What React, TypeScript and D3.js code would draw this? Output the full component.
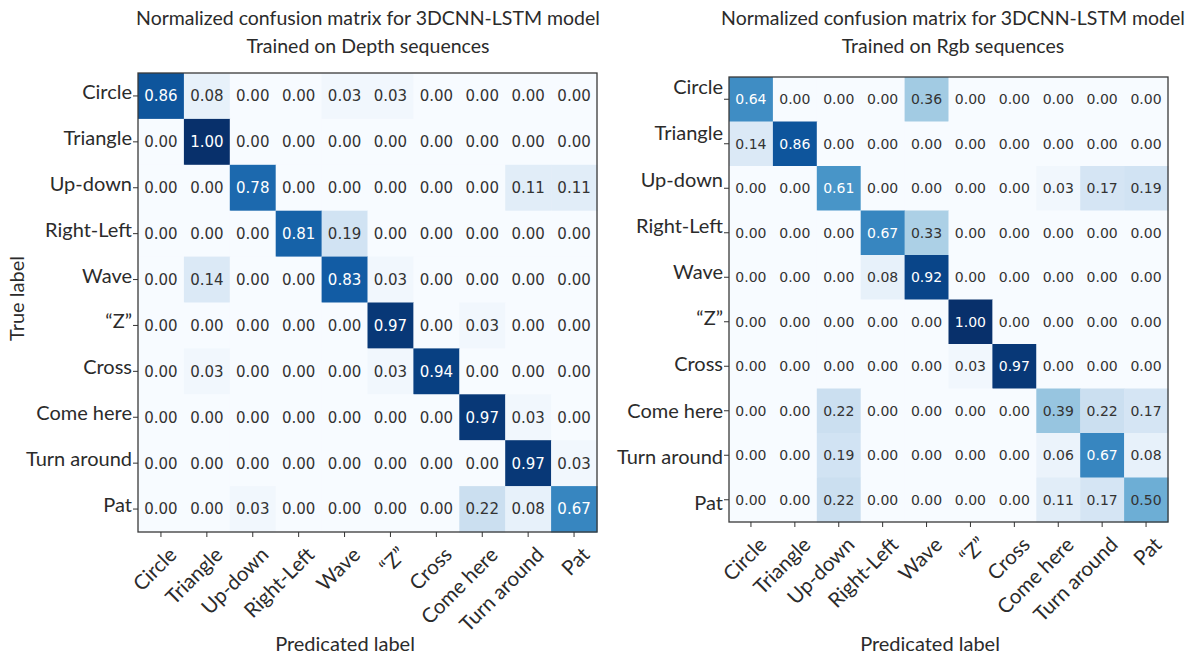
import React from "react";
import * as d3 from "d3";

const labels = [
  "Circle",
  "Triangle",
  "Up-down",
  "Right-Left",
  "Wave",
  "\u201CZ\u201D",
  "Cross",
  "Come here",
  "Turn around",
  "Pat",
];

// rows = true label, columns = predicted label
const depthValues = [
  [0.86, 0.08, 0.0, 0.0, 0.03, 0.03, 0.0, 0.0, 0.0, 0.0],
  [0.0, 1.0, 0.0, 0.0, 0.0, 0.0, 0.0, 0.0, 0.0, 0.0],
  [0.0, 0.0, 0.78, 0.0, 0.0, 0.0, 0.0, 0.0, 0.11, 0.11],
  [0.0, 0.0, 0.0, 0.81, 0.19, 0.0, 0.0, 0.0, 0.0, 0.0],
  [0.0, 0.14, 0.0, 0.0, 0.83, 0.03, 0.0, 0.0, 0.0, 0.0],
  [0.0, 0.0, 0.0, 0.0, 0.0, 0.97, 0.0, 0.03, 0.0, 0.0],
  [0.0, 0.03, 0.0, 0.0, 0.0, 0.03, 0.94, 0.0, 0.0, 0.0],
  [0.0, 0.0, 0.0, 0.0, 0.0, 0.0, 0.0, 0.97, 0.03, 0.0],
  [0.0, 0.0, 0.0, 0.0, 0.0, 0.0, 0.0, 0.0, 0.97, 0.03],
  [0.0, 0.0, 0.03, 0.0, 0.0, 0.0, 0.0, 0.22, 0.08, 0.67],
];

const rgbValues = [
  [0.64, 0.0, 0.0, 0.0, 0.36, 0.0, 0.0, 0.0, 0.0, 0.0],
  [0.14, 0.86, 0.0, 0.0, 0.0, 0.0, 0.0, 0.0, 0.0, 0.0],
  [0.0, 0.0, 0.61, 0.0, 0.0, 0.0, 0.0, 0.03, 0.17, 0.19],
  [0.0, 0.0, 0.0, 0.67, 0.33, 0.0, 0.0, 0.0, 0.0, 0.0],
  [0.0, 0.0, 0.0, 0.08, 0.92, 0.0, 0.0, 0.0, 0.0, 0.0],
  [0.0, 0.0, 0.0, 0.0, 0.0, 1.0, 0.0, 0.0, 0.0, 0.0],
  [0.0, 0.0, 0.0, 0.0, 0.0, 0.03, 0.97, 0.0, 0.0, 0.0],
  [0.0, 0.0, 0.22, 0.0, 0.0, 0.0, 0.0, 0.39, 0.22, 0.17],
  [0.0, 0.0, 0.19, 0.0, 0.0, 0.0, 0.0, 0.06, 0.67, 0.08],
  [0.0, 0.0, 0.22, 0.0, 0.0, 0.0, 0.0, 0.11, 0.17, 0.5],
];

const titleLine1 = "Normalized confusion matrix for 3DCNN-LSTM model";
const depthTitle = "Trained on Depth sequences";
const rgbTitle = "Trained on Rgb sequences";

const labelFont = "Lato, 'Open Sans', sans-serif";
const valueFont = "'DejaVu Sans', Verdana, sans-serif";
const textDark = "#2b2b2b";

const color = d3.scaleSequential(d3.interpolateBlues).domain([0, 1]);

type MatrixProps = {
  values: number[][];
  subtitle: string;
  x0: number;
  x1: number;
  y0: number;
  y1: number;
  titleX: number;
  xTitleX: number;
  valueSize: number;
  labelTop: number;
  labelBottom: number;
  showYTitle: boolean;
};

const Matrix = ({
  values,
  subtitle,
  x0,
  x1,
  y0,
  y1,
  titleX,
  xTitleX,
  valueSize,
  labelTop,
  labelBottom,
  showYTitle,
}: MatrixProps) => {
  const x = d3.scaleBand().domain(labels).range([x0, x1]);
  const y = d3.scaleBand().domain(labels).range([y0, y1]);
  // the row names were pasted in by hand, their spacing is not quite the grid's
  const yLab = d3.scaleBand().domain(labels).range([labelTop, labelBottom]);
  const thresh = d3.max(values.flat())! / 2;

  return (
    <g>
      <text x={titleX} y={25} textAnchor="middle" fontSize={19.5} fill={textDark}>
        {titleLine1}
      </text>
      <text x={titleX} y={53} textAnchor="middle" fontSize={19.5} fill={textDark}>
        {subtitle}
      </text>

      {values.map((row, i) =>
        row.map((v, j) => (
          <g key={`${i}-${j}`}>
            <rect
              x={x(labels[j])}
              y={y(labels[i])}
              width={x.bandwidth() + 0.5}
              height={y.bandwidth() + 0.5}
              fill={color(v)}
            />
            <text
              x={x(labels[j])! + x.bandwidth() / 2}
              y={y(labels[i])! + y.bandwidth() / 2}
              dy="0.36em"
              textAnchor="middle"
              fontFamily={valueFont}
              fontSize={valueSize}
              fill={v > thresh ? "#ffffff" : "#333333"}
            >
              {v.toFixed(2)}
            </text>
          </g>
        ))
      )}
      <rect
        x={x0}
        y={y0}
        width={x1 - x0}
        height={y1 - y0}
        fill="none"
        stroke="#3a3a3a"
        strokeWidth={1.3}
      />

      {/* y axis */}
      {labels.map((d) => (
        <g key={"y" + d}>
          <line
            x1={x0 - 5}
            x2={x0}
            y1={y(d)! + y.bandwidth() / 2}
            y2={y(d)! + y.bandwidth() / 2}
            stroke="#333"
          />
          <text
            x={x0 - 6}
            y={yLab(d)! + yLab.bandwidth() / 2}
            dy="0.35em"
            textAnchor="end"
            fontSize={20}
            fill={textDark}
          >
            {d}
          </text>
        </g>
      ))}

      {/* x axis */}
      {labels.map((d) => {
        const cx = x(d)! + x.bandwidth() / 2;
        return (
          <g key={"x" + d}>
            <line x1={cx} x2={cx} y1={y1} y2={y1 + 5} stroke="#333" />
            <text
              transform={`translate(${cx + 17},${y1 + 24}) rotate(-45)`}
              textAnchor="end"
              fontSize={20.5}
              fill={textDark}
            >
              {d}
            </text>
          </g>
        );
      })}

      <text
        x={xTitleX}
        y={651}
        textAnchor="middle"
        fontSize={20}
        fill={textDark}
      >
        Predicated label
      </text>
      {showYTitle && (
        <text
          transform={`translate(24,${(y0 + y1) / 2 - 4}) rotate(-90)`}
          textAnchor="middle"
          fontSize={20}
          fill={textDark}
        >
          True label
        </text>
      )}
    </g>
  );
};

const App = () => {
  const width = 1193;
  const height = 656;
  return (
    <div style={{ position: "absolute", left: 0, top: 0 }}>
      <svg
        width={width}
        height={height}
        viewBox={`0 0 ${width} ${height}`}
        fontFamily={labelFont}
        style={{ display: "block", background: "#fff" }}
      >
        <Matrix
          values={depthValues}
          subtitle={depthTitle}
          x0={138}
          x1={597}
          y0={73}
          y1={532}
          titleX={368}
          xTitleX={345}
          valueSize={15}
          labelTop={69}
          labelBottom={528}
          showYTitle={true}
        />
        <Matrix
          values={rgbValues}
          subtitle={rgbTitle}
          x0={729}
          x1={1168}
          y0={77}
          y1={522}
          titleX={953}
          xTitleX={930}
          valueSize={14}
          labelTop={64}
          labelBottom={526}
          showYTitle={false}
        />
      </svg>
    </div>
  );
};

export default App;
